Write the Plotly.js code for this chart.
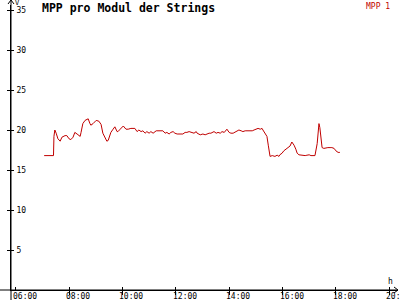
<!DOCTYPE html>
<html><head><meta charset="utf-8">
<script src="https://cdn.plot.ly/plotly-3.0.1.min.js"></script>
<style>html,body{margin:0;padding:0;background:#fff}#c{width:400px;height:300px}</style>
</head><body><div id="c"></div>
<script>
const times = ["07:04","07:25","07:26","07:28","07:31","07:35","07:40","07:44","07:51","07:55","08:00","08:04","08:09","08:13","08:18","08:25","08:27","08:31","08:36","08:43","08:47","08:49","08:54","09:01","09:07","09:12","09:16","09:21","09:25","09:28","09:34","09:39","09:43","09:48","09:50","09:55","10:02","10:08","10:13","10:19","10:24","10:28","10:33","10:37","10:42","10:46","10:51","10:55","11:00","11:04","11:09","11:16","11:20","11:27","11:31","11:36","11:40","11:45","11:49","11:54","11:58","12:03","12:07","12:12","12:16","12:21","12:25","12:30","12:34","12:41","12:46","12:48","12:55","13:01","13:06","13:10","13:15","13:19","13:26","13:31","13:35","13:40","13:44","13:49","13:55","14:00","14:04","14:09","14:13","14:18","14:22","14:27","14:31","14:36","14:43","14:47","14:52","14:56","15:01","15:05","15:10","15:14","15:16","15:21","15:25","15:28","15:30","15:32","15:37","15:43","15:48","15:52","15:54","15:59","16:03","16:08","16:12","16:17","16:21","16:26","16:30","16:33","16:37","16:42","16:46","16:51","16:55","17:00","17:04","17:09","17:13","17:18","17:20","17:22","17:24","17:27","17:29","17:33","17:38","17:42","17:47","17:51","17:56","18:00","18:05","18:09"];
const mpp1 = [16.8,16.8,19.2,20.0,19.6,18.9,18.6,19.1,19.3,19.3,18.9,18.8,19.1,19.7,19.5,19.2,19.7,20.8,21.2,21.4,20.8,20.6,20.8,21.2,21.1,20.7,19.6,19.1,18.6,18.7,19.7,20.1,20.4,19.8,19.8,20.1,20.5,20.1,20.1,20.2,20.2,20.2,19.8,20.0,19.8,19.9,19.6,19.8,19.6,19.8,19.6,19.9,19.9,19.9,19.9,19.6,19.7,19.5,19.7,19.8,19.6,19.5,19.5,19.5,19.5,19.7,19.7,19.8,19.7,19.6,19.8,19.6,19.4,19.5,19.4,19.5,19.6,19.6,19.8,19.6,19.7,19.6,19.8,19.7,20.1,19.7,19.6,19.6,19.7,19.9,20.0,19.9,19.8,19.9,19.9,19.9,19.9,20.0,20.1,20.2,20.1,20.2,20.0,19.6,19.2,18.1,16.9,16.7,16.8,16.7,16.85,16.7,16.9,17.1,17.4,17.6,17.8,18.0,18.5,18.1,17.6,17.1,16.9,16.85,16.8,16.8,16.85,16.9,16.8,16.8,16.8,18.3,20.0,20.8,20.3,18.7,17.8,17.7,17.8,17.8,17.8,17.8,17.7,17.4,17.2,17.2];
const xTickVals = [6,8,10,12,14,16,18,20];
const xTickText = ["06:00","08:00","10:00","12:00","14:00","16:00","18:00","20:00"];
const yTickVals = [5,10,15,20,25,30,35];
const seriesName = "MPP 1";
const titleText = "MPP pro Modul der Strings";

const toH = s => { const p = s.split(":"); return +p[0] + (+p[1])/60; };
const xs = times.map(toH);
const red = "#c00000";
const mono = "DejaVu Sans Mono, Liberation Mono, monospace";
const xr = [5.824, 20.329], yr = [0, 35.625];

const data = [{x: xs, y: mpp1, type: "scatter", mode: "lines", name: seriesName,
  line: {color: red, width: 1, shape: "linear"}, showlegend: false, hoverinfo: "skip"}];

const W = 387, H = 285;
const tickAnn = xTickVals.map((v, i) => ({text: xTickText[i], xref: "x", yref: "paper", x: v, y: 0,
  xanchor: "left", yanchor: "top", xshift: -5, yshift: 0, showarrow: false,
  font: {family: mono, size: 8, color: "#000"}}));
const layout = {
  width: 400, height: 300,
  margin: {l: 11, r: 2, t: 5, b: 10, pad: 0},
  paper_bgcolor: "#fff", plot_bgcolor: "#fff",
  showlegend: false,
  font: {family: mono, size: 8, color: "#000"},
  xaxis: {range: xr, tickmode: "array", tickvals: xTickVals, ticktext: xTickText,
    showgrid: false, zeroline: false, showline: true, linecolor: "#000", linewidth: 1,
    ticks: "outside", ticklen: 4, tickcolor: "#000", tickwidth: 1, showticklabels: false},
  xaxis2: {range: xr, overlaying: "x", tickmode: "array", tickvals: xTickVals,
    showgrid: false, zeroline: false, showline: false, showticklabels: false,
    ticks: "inside", ticklen: 3, tickcolor: "#000"},
  yaxis: {range: yr, tickmode: "array", tickvals: yTickVals,
    showgrid: false, zeroline: false, showline: true, linecolor: "#000", linewidth: 1,
    ticks: "outside", ticklen: 3, tickcolor: "#000", tickwidth: 1,
    ticklabelposition: "inside", ticklabelstandoff: 4,
    tickfont: {family: mono, size: 8, color: "#000"}},
  yaxis2: {range: yr, overlaying: "y", tickmode: "array", tickvals: yTickVals,
    showgrid: false, zeroline: false, showline: false, showticklabels: false,
    ticks: "inside", ticklen: 3, tickcolor: "#000"},
  shapes: [
    {type: "line", xref: "paper", yref: "paper", x0: -11/W, x1: 1, y0: 0, y1: 0, line: {color: "#000", width: 1}},
    {type: "line", xref: "paper", yref: "paper", x0: 0, x1: 0, y0: -10/H, y1: 1 + 5/H, line: {color: "#000", width: 1}},
    {type: "path", xref: "paper", yref: "paper", xsizemode: "pixel", ysizemode: "pixel", xanchor: 1, yanchor: 0,
      path: "M-4,-3 L0,0 L-4,3", line: {color: "#000", width: 1}},
    {type: "path", xref: "paper", yref: "paper", xsizemode: "pixel", ysizemode: "pixel", xanchor: 0, yanchor: 1,
      path: "M-3,1 L0,5 L3,1", line: {color: "#000", width: 1}}
  ],
  annotations: tickAnn.concat([
    {text: "<b>" + titleText + "</b>", xref: "paper", yref: "paper", x: 29/W, y: 1 - 3/H,
      xanchor: "left", yanchor: "middle", showarrow: false, font: {family: mono, size: 11.5, color: "#000"}},
    {text: seriesName, xref: "paper", yref: "paper", x: 1 - 6/W, y: 1 - 1/H,
      xanchor: "right", yanchor: "middle", showarrow: false, font: {family: mono, size: 8, color: red}},
    {text: "V", xref: "paper", yref: "paper", x: 2/W, y: 1 + 2/H,
      xanchor: "left", yanchor: "middle", showarrow: false, font: {family: mono, size: 7, color: "#000"}},
    {text: "h", xref: "paper", yref: "paper", x: 1 - 12/W, y: 9/H,
      xanchor: "left", yanchor: "middle", showarrow: false, font: {family: mono, size: 8, color: "#000"}}
  ])
};
data.push({x: [xr[0]], y: [yr[0]], xaxis: "x2", yaxis: "y2", mode: "markers", marker: {opacity: 0}, showlegend: false, hoverinfo: "skip"});
Plotly.newPlot("c", data, layout, {staticPlot: true, displayModeBar: false});
</script></body></html>
